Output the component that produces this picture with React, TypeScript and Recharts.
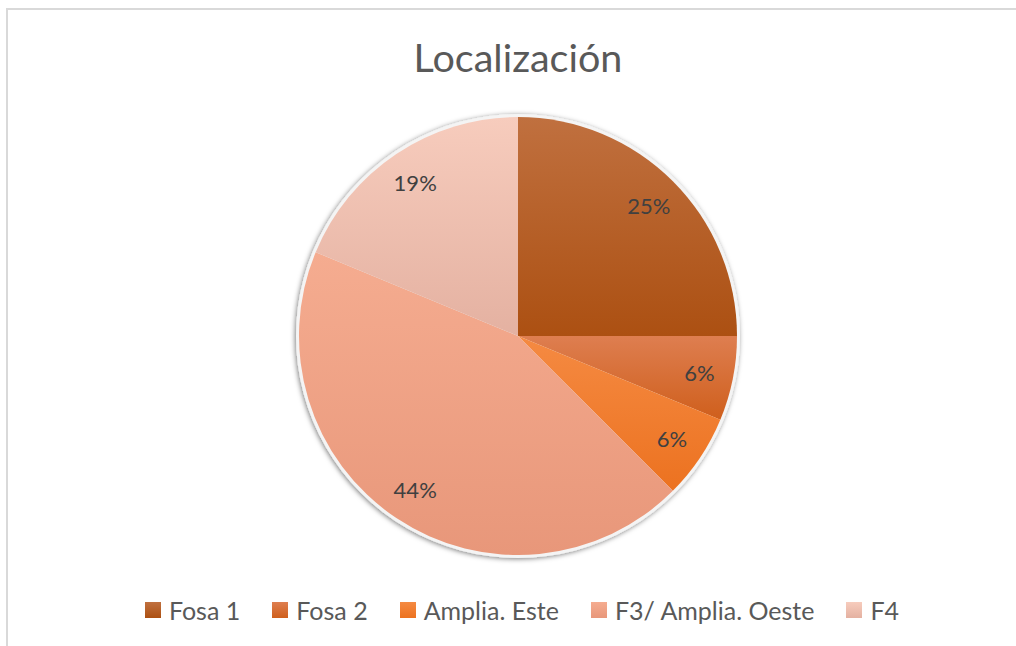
import React from "react";
import { PieChart, Pie, Cell } from "recharts";

const categories = ["Fosa 1", "Fosa 2", "Amplia. Este", "F3/ Amplia. Oeste", "F4"];
const counts = [4, 1, 1, 7, 3];
const topColors = ["#C0703F", "#DE7E50", "#F58A42", "#F5AC90", "#F7CCBD"];
const bottomColors = ["#AC5012", "#CF5F1C", "#EC7220", "#E8977A", "#E4B1A1"];
const title = "Localización";

const data = categories.map((name, i) => ({ name, value: counts[i] }));
const bgData = [{ name: "bg", value: 1 }];

const RAD = Math.PI / 180;
const FONT = "Lato, sans-serif";

const renderLabel = (props: any) => {
  const { cx, cy, midAngle, outerRadius, percent } = props;
  const r = outerRadius * 0.845;
  const x = cx + r * Math.cos(-midAngle * RAD);
  const y = cy + r * Math.sin(-midAngle * RAD);
  return (
    <text
      x={x}
      y={y}
      fill="#404040"
      fontSize={22}
      fontFamily={FONT}
      textAnchor="middle"
      dominantBaseline="central"
    >
      {`${Math.round(percent * 100)}%`}
    </text>
  );
};

export default function App() {
  return (
    <div
      style={{
        position: "fixed",
        left: 0,
        top: 0,
        width: 1016,
        height: 646,
        overflow: "hidden",
        background: "#fff",
      }}
    >
      <div
        style={{
          position: "absolute",
          left: 6,
          top: 8,
          width: 1100,
          height: 700,
          borderLeft: "2px solid #d9d9d9",
          borderTop: "2px solid #d9d9d9",
        }}
      />
      <div
        style={{
          position: "absolute",
          left: 0,
          width: 1036,
          top: 33,
          textAlign: "center",
          fontFamily: FONT,
          fontSize: 39.5,
          color: "#595959",
          lineHeight: "48px",
        }}
      >
        {title}
      </div>
      <div style={{ position: "absolute", left: 0, top: 0 }}>
        <PieChart width={1016} height={646} margin={{ top: 0, right: 0, bottom: 0, left: 0 }}>
          <defs>
            {topColors.map((c, i) => (
              <linearGradient key={i} id={`g${i}`} x1="0" y1="0" x2="0" y2="1">
                <stop offset="0%" stopColor={c} />
                <stop offset="100%" stopColor={bottomColors[i]} />
              </linearGradient>
            ))}
            <filter id="shadow" x="-10%" y="-10%" width="120%" height="120%">
              <feDropShadow dx="-1" dy="1" stdDeviation="2.5" floodColor="#000" floodOpacity="0.5" />
            </filter>
          </defs>
          <Pie
            data={bgData}
            dataKey="value"
            cx={518}
            cy={336}
            outerRadius={222}
            fill="#f4f4f4"
            stroke="none"
            isAnimationActive={false}
            style={{ filter: "url(#shadow)" }}
            label={false}
            labelLine={false}
          />
          <Pie
            data={data}
            dataKey="value"
            nameKey="name"
            cx={518}
            cy={336}
            outerRadius={219}
            startAngle={90}
            endAngle={-270}
            isAnimationActive={false}
            label={renderLabel}
            labelLine={false}
            stroke="none"
          >
            {data.map((d, i) => (
              <Cell key={d.name} fill={`url(#g${i})`} stroke="none" />
            ))}
          </Pie>
        </PieChart>
      </div>
      <div
        style={{
          position: "absolute",
          left: 0,
          width: 1044,
          top: 596,
          display: "flex",
          justifyContent: "center",
          alignItems: "center",
          fontFamily: FONT,
          fontSize: 25,
          color: "#595959",
          lineHeight: "28px",
        }}
      >
        {categories.map((c, i) => (
          <div
            key={c}
            style={{
              display: "flex",
              alignItems: "center",
              marginLeft: i === 0 ? 0 : 32,
            }}
          >
            <span
              style={{
                display: "inline-block",
                width: 16,
                height: 16,
                marginRight: 8,
                background: `linear-gradient(${topColors[i]}, ${bottomColors[i]})`,
              }}
            />
            <span>{c}</span>
          </div>
        ))}
      </div>
    </div>
  );
}
